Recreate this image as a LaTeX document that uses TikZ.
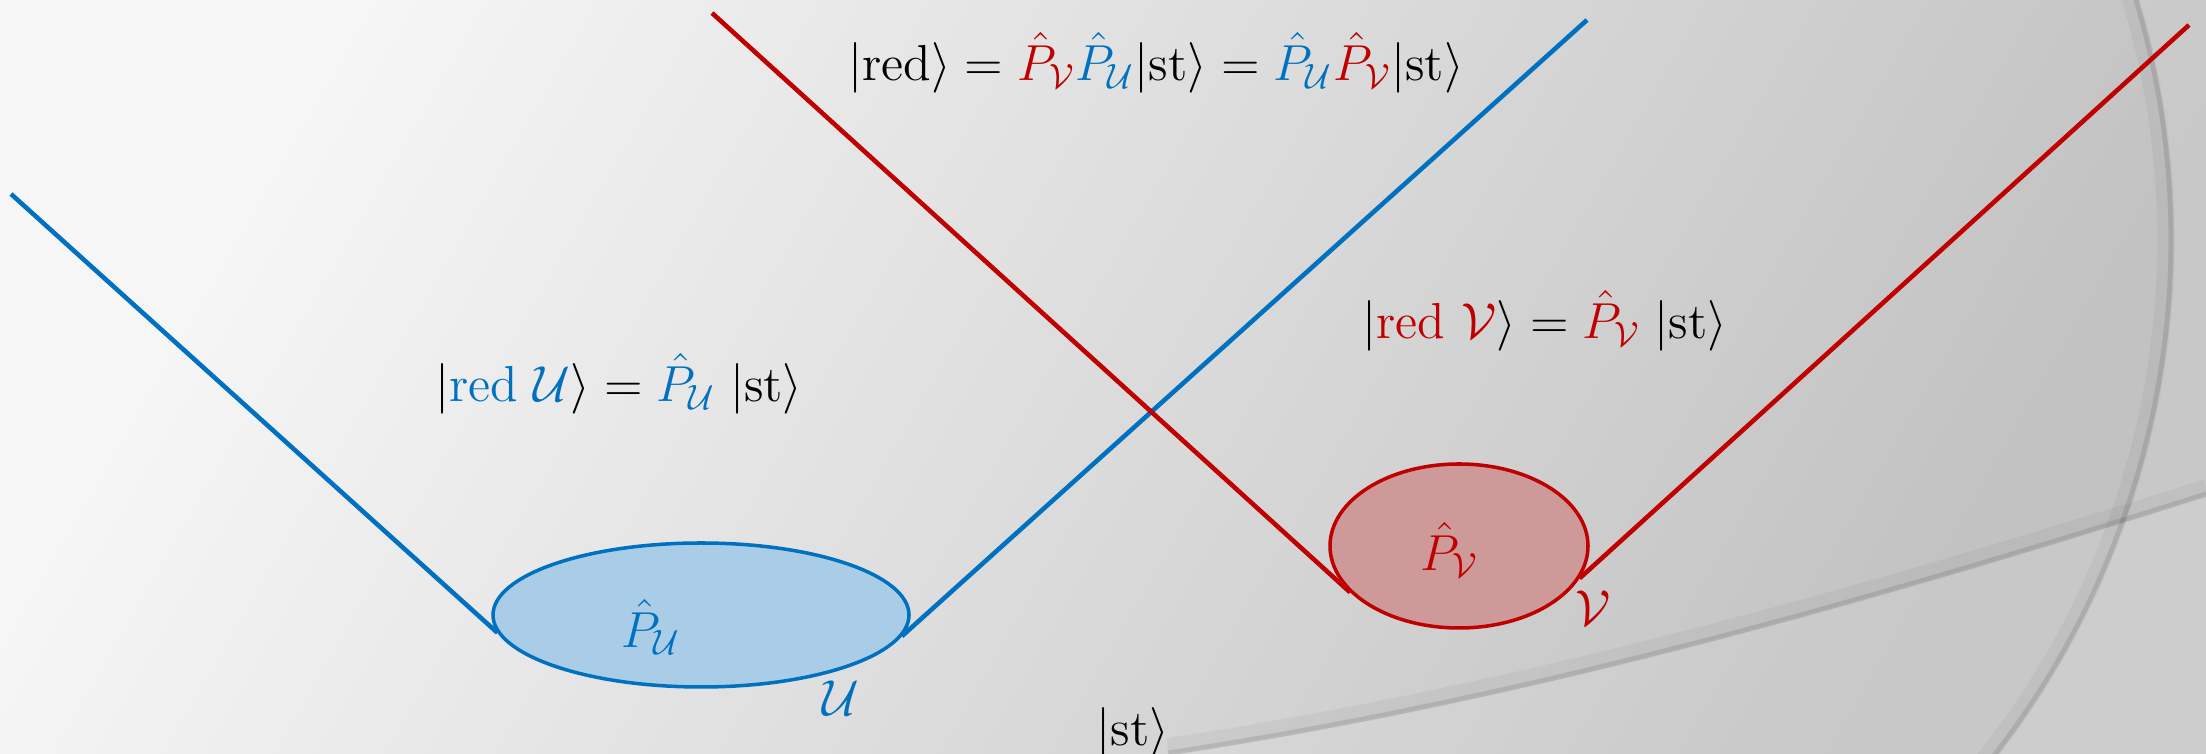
\documentclass[tikz,border=0pt]{standalone}
\usepackage{amsmath}
\usepackage{tikz}
\usetikzlibrary{shapes.geometric,positioning}
\usepackage{xcolor}
\definecolor{ublue}{RGB}{0,112,192}
\definecolor{vred}{RGB}{192,0,0}
\definecolor{ufill}{RGB}{169,205,230}
\definecolor{vfill}{RGB}{205,153,153}
\definecolor{bglight}{RGB}{246,246,246}
\definecolor{bgdark}{RGB}{194,194,194}

\begin{document}
\begin{tikzpicture}[x=0.1mm, y=-0.1mm,
  eq/.style={font=\fontsize{13.6}{16}\selectfont, inner sep=0pt},
  arm/.style={line width=1.3pt},
  proj/.style={ellipse, line width=1pt, inner sep=0pt}]

% ---- background ------------------------------------------------------------
\useasboundingbox (0,0) rectangle (2206,754);
\shade[left color=bglight, right color=bgdark, shading angle=60]
  (0,0) rectangle (2206,754);
\begin{scope}
  \clip (0,0) rectangle (2206,754);
  \fill[white,opacity=0.10] (1332,240) ++(-25:841)
    arc[start angle=-25, end angle=50, radius=841] -- (2300,900) -- (2300,-100) -- cycle;
  \fill[white,opacity=0.10] (1168,754) .. controls (1518,701) and (1856,606)
    .. (2206,495) -- (2206,754) -- cycle;
  % shadowed edges
  \draw[black,opacity=0.04,line width=5pt] (1332,240) ++(-25:834)
    arc[start angle=-25, end angle=50, radius=834];
  \draw[black,opacity=0.10,line width=1.4pt] (1332,240) ++(-25:839)
    arc[start angle=-25, end angle=50, radius=839];
  \draw[black,opacity=0.04,line width=5pt] (1168,747) .. controls (1518,694)
    and (1856,599) .. (2206,488);
  \draw[black,opacity=0.10,line width=1.4pt] (1168,753) .. controls (1518,700)
    and (1856,605) .. (2206,494);
\end{scope}

% ---- projector ellipses ----------------------------------------------------
\node[proj, draw=ublue, fill=ufill, minimum width=41.6mm, minimum height=14.4mm]
  (ellU) at (701,615) {};
\node[proj, draw=vred, fill=vfill, minimum width=25.8mm, minimum height=16.4mm]
  (ellV) at (1459,546) {};

% ---- subspace arms ---------------------------------------------------------
\coordinate (uTL) at (11,194);
\coordinate (uTR) at (1587,20);
\coordinate (vTL) at (712,13);
\coordinate (vTR) at (2189,25);
\draw[arm,ublue] (uTL) -- (ellU.185);
\draw[arm,ublue] (ellU.354) -- (uTR);
\draw[arm,vred] (vTL) -- (ellV.203);
\draw[arm,vred] (ellV.345) -- (vTR);

% ---- labels ----------------------------------------------------------------
\node[eq,ublue] (PU) at (651,627) {$\hat{P}_{\mathcal{U}}$};
\node[eq,ublue] (labU) at (841,698) {$\mathcal{U}$};
\node[eq,vred] (PV) at (1450,550) {$\hat{P}_{\mathcal{V}}$};
\node[eq,vred] (labV) at (1593,608) {$\mathcal{V}$};
\node[eq] (st) at (1133,733) {$|\mathrm{st}\rangle$};

\node[eq] (topeq) at (1156,63)
  {$|\mathrm{red}\rangle = {\color{vred}\hat{P}_{\mathcal{V}}}{\color{ublue}\hat{P}_{\mathcal{U}}}|\mathrm{st}\rangle
    = {\color{ublue}\hat{P}_{\mathcal{U}}}{\color{vred}\hat{P}_{\mathcal{V}}}|\mathrm{st}\rangle$};
\node[eq] (eqV) at (1545,321)
  {$|{\color{vred}\mathrm{red}\ \mathcal{V}}\rangle = {\color{vred}\hat{P}_{\mathcal{V}}}\;|\mathrm{st}\rangle$};
\node[eq] (eqU) at (619,384)
  {$|{\color{ublue}\mathrm{red}\ \mathcal{U}}\rangle = {\color{ublue}\hat{P}_{\mathcal{U}}}\;|\mathrm{st}\rangle$};

\end{tikzpicture}
\end{document}
